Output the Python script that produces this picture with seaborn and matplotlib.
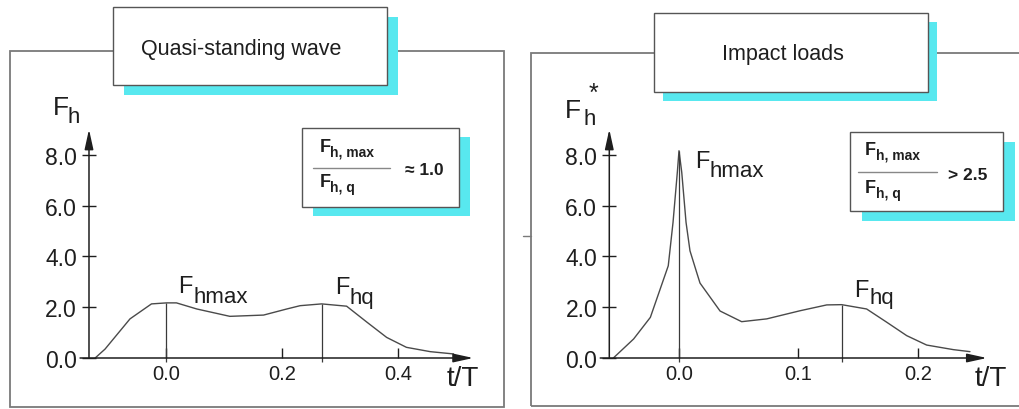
import matplotlib.pyplot as plt
import matplotlib.patches as patches
from matplotlib.lines import Line2D
import seaborn as sns

sns.set_style('white')
plt.rcParams['font.family'] = ['Liberation Sans', 'DejaVu Sans']

# --- data ---
# quasi-standing wave
qs_t = [-0.122, -0.105, -0.062, -0.025, 0.001, 0.018, 0.053, 0.110, 0.168, 0.208,
        0.231, 0.268, 0.311, 0.346, 0.380, 0.414, 0.455, 0.495]
qs_f = [0.0, 0.35, 1.54, 2.13, 2.17, 2.17, 1.93, 1.64, 1.69, 1.93,
        2.06, 2.13, 2.04, 1.41, 0.81, 0.42, 0.25, 0.16]
qs_xticks = [0.0, 0.2, 0.4]
qs_mark_t = [0.0, 0.268]      # F_hmax, F_hq
qs_mark_f = [2.17, 2.13]

# impact loads
im_t = [-0.055, -0.038, -0.024, -0.009, -0.005, -0.0014, 0.0, 0.0023, 0.0059, 0.0092,
        0.0148, 0.0176, 0.026, 0.0344, 0.0525, 0.0735, 0.1014, 0.1238, 0.1363, 0.1572,
        0.174, 0.1908, 0.2075, 0.2298, 0.2438]
im_f = [0.0, 0.75, 1.60, 3.63, 5.34, 7.31, 8.16, 7.31, 5.34, 4.22,
        3.37, 2.95, 2.40, 1.85, 1.43, 1.54, 1.86, 2.09, 2.10, 1.93,
        1.41, 0.88, 0.51, 0.33, 0.25]
im_xticks = [0.0, 0.1, 0.2]
im_mark_t = [0.0, 0.1363]
im_mark_f = [8.16, 2.10]

yticks = [0.0, 2.0, 4.0, 6.0, 8.0]
titles = ['Quasi-standing wave', 'Impact loads']
ratios = ['\u2248 1.0', '> 2.5']

W, H = 1020, 410
CYAN = '#58e8ef'
LINE = '#555555'
INK = '#1e1e1e'

fig = plt.figure(figsize=(W / 100, H / 100), dpi=100)


def fx(px):
    return px / W


def fy(py):
    return 1 - py / H


def make_axes(x0, sx, xlim, y0, sy, ylim):
    # place axes so data maps to the picture's pixel scale
    left = x0 + xlim[0] * sx
    right = x0 + xlim[1] * sx
    bottom = y0 - ylim[0] * sy
    top = y0 - ylim[1] * sy
    ax = fig.add_axes([fx(left), fy(bottom), (right - left) / W, (bottom - top) / H])
    ax.set_xlim(xlim)
    ax.set_ylim(ylim)
    ax.patch.set_alpha(0)
    return ax


def rect(x0, y0, x1, y1, fc='white', ec=LINE, lw=1.0, z=2):
    fig.add_artist(patches.Rectangle((fx(x0), fy(y1)), (x1 - x0) / W, (y1 - y0) / H,
                                     transform=fig.transFigure, fc=fc, ec=ec, lw=lw, zorder=z))


def shadow_box(x0, y0, x1, y1, dx, dy):
    rect(x0 + dx, y0 + dy, x1 + dx, y1 + dy, fc=CYAN, ec='none', z=2)
    rect(x0, y0, x1, y1, z=2.1)


def txt(x, y, s, size, bold=False, ha='left'):
    fig.text(fx(x), fy(y), s, fontsize=size, ha=ha, va='baseline', color=INK,
             fontweight='bold' if bold else 'normal', zorder=3)


def hline(x0, x1, y, color=LINE, lw=1.0):
    fig.add_artist(Line2D([fx(x0), fx(x1)], [fy(y), fy(y)], transform=fig.transFigure,
                          color=color, lw=lw, zorder=3))


def draw_panel(ax, t, f, xticks, mark_t, mark_f, yaxis_x, xstart, xtip):
    sns.lineplot(x=t, y=f, ax=ax, color='#4a4a4a', lw=1.0)
    ax.vlines(mark_t, -0.15, mark_f, color='#3a3a3a', lw=0.9)
    for side in ['top', 'right', 'left', 'bottom']:
        ax.spines[side].set_visible(False)
    ax.spines['left'].set_position(('data', yaxis_x))
    ax.spines['bottom'].set_position(('data', 0))
    arrow = dict(arrowstyle='-|>,head_length=1.0,head_width=0.22', color=INK, lw=1.1,
                 shrinkA=0, shrinkB=0, mutation_scale=12)
    ax.annotate('', xy=(yaxis_x, 9.0), xytext=(yaxis_x, 0), arrowprops=arrow)
    ax.annotate('', xy=(xtip, 0), xytext=(xstart, 0), arrowprops=arrow)
    ax.set_yticks(yticks, labels=[f'{v:.1f}' for v in yticks])
    ax.set_xticks(xticks, labels=[f'{v:.1f}' for v in xticks])
    ax.tick_params(axis='y', direction='inout', length=10.5, width=1, color=INK,
                   labelcolor=INK, labelsize=16.5, pad=3.5, left=True)
    ax.tick_params(axis='x', direction='in', length=7, width=1, color=INK,
                   labelcolor=INK, labelsize=14.5, pad=4.5, bottom=True)
    ax.set_xlabel('')
    ax.set_ylabel('')


# outer frames
rect(10, 52, 504, 408, fc='none', ec='#7a7a7a', lw=1.3, z=1)
rect(531, 54, 1030, 407, fc='none', ec='#7a7a7a', lw=1.3, z=1)
hline(523, 531, 237, color='#7a7a7a')

# left panel
ax1 = make_axes(166, 580.75, (-0.16, 0.54), 359, 25.4, (-0.8, 9.4))
draw_panel(ax1, qs_t, qs_f, qs_xticks, qs_mark_t, qs_mark_f, -0.1326, -0.148, 0.529)

# right panel
ax2 = make_axes(679, 1193.5, (-0.08, 0.27), 359, 25.4, (-0.8, 9.4))
draw_panel(ax2, im_t, im_f, im_xticks, im_mark_t, im_mark_f, -0.0584, -0.066, 0.258)

# title boxes
shadow_box(113, 8, 387, 86, 11, 10)
txt(241, 55, titles[0], 15.5, ha='center')
shadow_box(654, 14, 928, 93, 9, 8.5)
txt(783, 60, titles[1], 15.5, ha='center')

# ratio boxes
shadow_box(302, 129, 459, 208, 11, 9)
txt(320, 151.7, 'F', 13, bold=True)
txt(330.5, 156.7, 'h, max', 10, bold=True)
hline(313, 390, 169, color='#888888')
txt(320, 187, 'F', 13, bold=True)
txt(330.5, 192.5, 'h, q', 10, bold=True)
txt(405, 175, ratios[0], 12.5, bold=True)

shadow_box(850, 133, 1003, 212, 12, 10)
txt(865, 155, 'F', 13, bold=True)
txt(876, 160, 'h, max', 10, bold=True)
hline(858, 937, 173, color='#888888')
txt(865, 193, 'F', 13, bold=True)
txt(876, 198, 'h, q', 10, bold=True)
txt(948, 180, ratios[1], 12.5, bold=True)

# axis and point labels, left
txt(52.7, 115, 'F', 19)
txt(68, 122.7, 'h', 16)
txt(178, 293, 'F', 17)
txt(194, 303, 'hmax', 16)
txt(335, 294.5, 'F', 17)
txt(349.5, 304.5, 'hq', 16)
txt(447, 386, 't/T', 20)

# axis and point labels, right
txt(565, 118.3, 'F', 19)
txt(584, 125, 'h', 16)
txt(588.5, 101, '*', 18)
txt(695, 168, 'F', 17)
txt(709.5, 177, 'hmax', 16)
txt(854, 296.7, 'F', 17)
txt(869.5, 304, 'hq', 16)
txt(975, 386, 't/T', 20)

fig.savefig('out.png', dpi=100)
